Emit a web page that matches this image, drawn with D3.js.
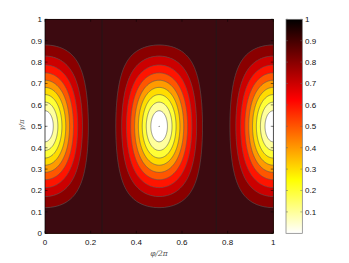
<!DOCTYPE html>
<html><head><meta charset="utf-8">
<script src="https://cdn.jsdelivr.net/npm/d3@7"></script>
<style>body{margin:0;background:#fff}svg{display:block}text{font-family:"Liberation Sans",Arial,sans-serif}</style>
</head><body><svg id="c" width="349" height="263"></svg>
<script>
// ---- data ----
const phiTicks = [0, 0.2, 0.4, 0.6, 0.8, 1];
const gammaTicks = [0, 0.1, 0.2, 0.3, 0.4, 0.5, 0.6, 0.7, 0.8, 0.9, 1];
const cbTicks = [0.1, 0.2, 0.3, 0.4, 0.5, 0.6, 0.7, 0.8, 0.9, 1];
const levels = [0.1, 0.2, 0.3, 0.4, 0.5, 0.6, 0.7, 0.8, 0.9];
const minPhi = [0, 0.5, 1];      // centres of the low-entropy lobes
const minGamma = [0.5];
const maxPhi = [0.25, 0.75];     // lines where the value reaches 1
const bandColors = ["#ffffff","#ffff9c","#ffff36","#ffdc00","#ff9a00","#ff5600","#ff1400","#cc0000","#8a0000","#3c0a10"];

// ---- layout ----
const svg = d3.select("#c");
const X0 = 45, X1 = 273.3, Y0 = 19.3, Y1 = 233.3;
const x = d3.scaleLinear([0, 1], [X0, X1]);
const y = d3.scaleLinear([0, 1], [Y1, Y0]);

// field: entropy of a Bloch vector of length |sin(pi g) cos(2 pi f)|
const nx = 229, ny = 215;
const vals = new Float64Array(nx * ny);
for (let j = 0; j < ny; j++) {
  const g = j / (ny - 1);
  for (let i = 0; i < nx; i++) {
    const f = i / (nx - 1);
    const r = Math.min(1, Math.abs(Math.sin(Math.PI * g) * Math.cos(2 * Math.PI * f)));
    const p = (1 - r) / 2, q = 1 - p;
    let h = 0;
    if (p > 0) h -= p * Math.log2(p);
    if (q > 0) h -= q * Math.log2(q);
    vals[j * nx + i] = h;
  }
}
const proj = d3.geoTransform({point(u, v) {
  this.stream.point(x((u - 0.5) / (nx - 1)), y((v - 0.5) / (ny - 1)));
}});
const path = d3.geoPath(proj);
const contours = d3.contours().size([nx, ny]).thresholds(levels)(vals);

svg.append("defs").append("clipPath").attr("id", "clip")
  .append("rect").attr("x", X0).attr("y", Y0).attr("width", X1 - X0).attr("height", Y1 - Y0);
const g = svg.append("g").attr("clip-path", "url(#clip)");
g.append("rect").attr("x", X0).attr("y", Y0).attr("width", X1 - X0).attr("height", Y1 - Y0)
  .attr("fill", bandColors[0]);
g.selectAll("path.band").data(contours).join("path").attr("class", "band")
  .attr("d", path).attr("fill", (d, i) => bandColors[i + 1])
  .attr("stroke", "#5a5a5a").attr("stroke-width", 0.6);
g.selectAll("line.max").data(maxPhi).join("line").attr("class", "max")
  .attr("x1", d => x(d)).attr("x2", d => x(d)).attr("y1", Y0).attr("y2", Y1)
  .attr("stroke", "#1a1a1a").attr("stroke-width", 0.7);
const mins = [];
minPhi.forEach(p => minGamma.forEach(q => mins.push([p, q])));
g.selectAll("circle.min").data(mins).join("circle").attr("class", "min")
  .attr("cx", d => x(d[0])).attr("cy", d => y(d[1])).attr("r", 0.6).attr("fill", "#666");

// axes box and ticks (inward)
svg.append("rect").attr("x", X0).attr("y", Y0).attr("width", X1 - X0).attr("height", Y1 - Y0)
  .attr("fill", "none").attr("stroke", "#000").attr("stroke-width", 0.7);
const tl = 2.5;
phiTicks.forEach(t => {
  svg.append("line").attr("x1", x(t)).attr("x2", x(t)).attr("y1", Y1).attr("y2", Y1 - tl).attr("stroke", "#000").attr("stroke-width", 0.5);
  svg.append("line").attr("x1", x(t)).attr("x2", x(t)).attr("y1", Y0).attr("y2", Y0 + tl).attr("stroke", "#000").attr("stroke-width", 0.5);
});
gammaTicks.forEach(t => {
  svg.append("line").attr("x1", X0).attr("x2", X0 + tl).attr("y1", y(t)).attr("y2", y(t)).attr("stroke", "#000").attr("stroke-width", 0.5);
  svg.append("line").attr("x1", X1).attr("x2", X1 - tl).attr("y1", y(t)).attr("y2", y(t)).attr("stroke", "#000").attr("stroke-width", 0.5);
});
svg.selectAll("text.xt").data(phiTicks).join("text").attr("class", "xt")
  .attr("x", d => x(d)).attr("y", 244.5).attr("text-anchor", "middle")
  .attr("font-size", 8).attr("fill", "#111").text(d => d3.format("")(d));
svg.selectAll("text.yt").data(gammaTicks).join("text").attr("class", "yt")
  .attr("x", 42).attr("y", d => y(d) + 2.9).attr("text-anchor", "end")
  .attr("font-size", 8).attr("fill", "#111").text(d => d3.format("")(d));
svg.append("text").attr("x", 159).attr("y", 255.5).attr("text-anchor", "middle")
  .attr("font-size", 7.5).attr("font-style", "italic").attr("fill", "#555")
  .style("font-family", "'DejaVu Serif',serif").text("φ/2π");
svg.append("text").attr("transform", "translate(24,125) rotate(-90)").attr("text-anchor", "middle")
  .attr("font-size", 7).attr("font-style", "italic").attr("fill", "#555")
  .style("font-family", "'DejaVu Serif',serif").text("γ/π");

// colorbar
const CX0 = 286, CX1 = 302.3;
const cmap = d3.scaleLinear().domain([0, 0.25, 0.625, 1]).range(["#ffffff", "#ffff00", "#ff0000", "#000000"]);
const grad = svg.select("defs").append("linearGradient").attr("id", "cb")
  .attr("x1", 0).attr("y1", 1).attr("x2", 0).attr("y2", 0);
d3.range(0, 1.0001, 0.025).forEach(v => grad.append("stop").attr("offset", v).attr("stop-color", cmap(v)));
svg.append("rect").attr("x", CX0).attr("y", Y0).attr("width", CX1 - CX0).attr("height", Y1 - Y0)
  .attr("fill", "url(#cb)").attr("stroke", "#777").attr("stroke-width", 0.7);
cbTicks.forEach(t => {
  svg.append("line").attr("x1", CX1).attr("x2", CX1 - 2).attr("y1", y(t)).attr("y2", y(t)).attr("stroke", "#666").attr("stroke-width", 0.5);
  svg.append("line").attr("x1", CX0).attr("x2", CX0 + 2).attr("y1", y(t)).attr("y2", y(t)).attr("stroke", "#666").attr("stroke-width", 0.5);
});
svg.selectAll("text.ct").data(cbTicks).join("text").attr("class", "ct")
  .attr("x", 305).attr("y", d => y(d) + 2.9).attr("font-size", 8).attr("fill", "#111")
  .text(d => d3.format("")(d));
</script></body></html>
